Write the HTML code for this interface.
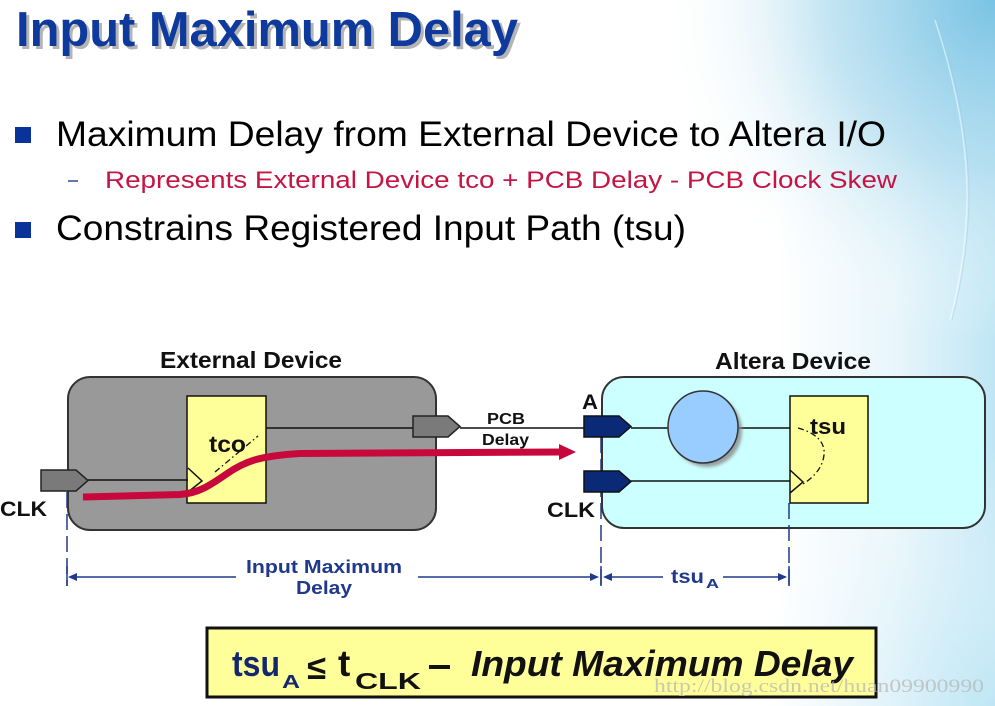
<!DOCTYPE html>
<html><head><meta charset="utf-8"><style>
html,body{margin:0;padding:0;background:#fff;}
svg{display:block;}
text{font-family:"Liberation Sans",Arial,sans-serif;}
</style></head><body>
<svg width="995" height="706" viewBox="0 0 995 706" xmlns="http://www.w3.org/2000/svg">
<defs>
<linearGradient id="bgl" x1="0" y1="0" x2="1" y2="0">
<stop offset="0" stop-color="#ffffff"/>
<stop offset="0.78" stop-color="#ffffff"/>
<stop offset="0.9" stop-color="#e8f6fb"/>
<stop offset="1" stop-color="#bfe6f5"/>
</linearGradient>
<radialGradient id="bgr" cx="995" cy="0" r="340" gradientUnits="userSpaceOnUse">
<stop offset="0" stop-color="#79c3e4" stop-opacity="1"/>
<stop offset="0.5" stop-color="#b0dcef" stop-opacity="0.7"/>
<stop offset="1" stop-color="#ffffff" stop-opacity="0"/>
</radialGradient>
<radialGradient id="bgb" cx="995" cy="706" r="260" gradientUnits="userSpaceOnUse">
<stop offset="0" stop-color="#bfe6f5" stop-opacity="0.9"/>
<stop offset="1" stop-color="#ffffff" stop-opacity="0"/>
</radialGradient>
<filter id="sh" x="-20%" y="-20%" width="150%" height="150%"><feGaussianBlur stdDeviation="1.5"/></filter>
</defs>
<rect x="0" y="0" width="995" height="706" fill="url(#bgl)"/>
<rect x="0" y="0" width="995" height="706" fill="url(#bgr)"/>
<rect x="0" y="0" width="995" height="706" fill="url(#bgb)"/>
<path d="M935 20 Q968 120 967 200 Q966 260 950 320" fill="none" stroke="#ffffff" stroke-width="1.5" opacity="0.5"/>
<path d="M937 20 Q970 120 969 200 Q968 260 952 320" fill="none" stroke="#8fcbe3" stroke-width="1" opacity="0.4"/>

<!-- Title -->
<text x="19" y="49" font-size="49" font-weight="bold" fill="#b4b4b4" textLength="502" lengthAdjust="spacingAndGlyphs">Input Maximum Delay</text>
<text x="16" y="46" font-size="49" font-weight="bold" fill="#0d3a9c" textLength="502" lengthAdjust="spacingAndGlyphs">Input Maximum Delay</text>

<!-- Bullets -->
<rect x="15" y="127" width="16" height="16" fill="#0a3399"/>
<text x="56" y="146" font-size="35" fill="#000" textLength="830" lengthAdjust="spacingAndGlyphs">Maximum Delay from External Device to Altera I/O</text>
<line x1="68" y1="181" x2="78" y2="181" stroke="#2a4a9a" stroke-width="1.5"/>
<text x="105" y="188" font-size="24" fill="#c41545" textLength="792" lengthAdjust="spacingAndGlyphs">Represents External Device tco + PCB Delay - PCB Clock Skew</text>
<rect x="15" y="222" width="16" height="16" fill="#0a3399"/>
<text x="56" y="240" font-size="35" fill="#000" textLength="630" lengthAdjust="spacingAndGlyphs">Constrains Registered Input Path (tsu)</text>

<!-- Labels -->
<text x="160" y="368" font-size="23" font-weight="bold" fill="#111" textLength="182" lengthAdjust="spacingAndGlyphs">External Device</text>
<text x="715" y="369" font-size="23" font-weight="bold" fill="#111" textLength="156" lengthAdjust="spacingAndGlyphs">Altera Device</text>

<!-- External device box -->
<rect x="68" y="377" width="368" height="153" rx="22" ry="22" fill="#999999" stroke="#333" stroke-width="2"/>
<rect x="187" y="396" width="79" height="107" fill="#ffff99" stroke="#111" stroke-width="1.5"/>
<polyline points="188,468 202,481 188,492" fill="none" stroke="#111" stroke-width="1.5"/>
<line x1="215" y1="472" x2="258" y2="436" stroke="#111" stroke-width="1.3" stroke-dasharray="6,3,1.5,3"/>
<text x="209" y="452" font-size="23" font-weight="bold" fill="#111" textLength="37" lengthAdjust="spacingAndGlyphs">tco</text>
<line x1="88" y1="480" x2="188" y2="480" stroke="#111" stroke-width="1.5"/>
<line x1="266" y1="428" x2="413" y2="428" stroke="#111" stroke-width="1.5"/>
<line x1="460" y1="428" x2="584" y2="428" stroke="#111" stroke-width="1.5"/>
<polygon points="41,470 76,470 88,480.5 76,491 41,491" fill="#7a7a7a" stroke="#222" stroke-width="1.5"/>
<polygon points="413,416 448,416 460,426.5 448,437 413,437" fill="#7a7a7a" stroke="#222" stroke-width="1.5"/>

<text x="0" y="516" font-size="21" font-weight="bold" fill="#111" textLength="47" lengthAdjust="spacingAndGlyphs">CLK</text>
<text x="487" y="424" font-size="16" font-weight="bold" fill="#111" textLength="38" lengthAdjust="spacingAndGlyphs">PCB</text>
<text x="482" y="445" font-size="16" font-weight="bold" fill="#111" textLength="47" lengthAdjust="spacingAndGlyphs">Delay</text>

<!-- Altera box -->
<rect x="602" y="377" width="383" height="151" rx="22" ry="22" fill="#ccffff" stroke="#333" stroke-width="2"/>
<line x1="631" y1="428" x2="668" y2="428" stroke="#111" stroke-width="1.5"/>
<line x1="739" y1="428" x2="790" y2="428" stroke="#111" stroke-width="1.5"/>
<line x1="631" y1="481" x2="790" y2="481" stroke="#111" stroke-width="1.5"/>
<ellipse cx="707" cy="431" rx="35" ry="36" fill="#888" filter="url(#sh)" opacity="0.8"/>
<ellipse cx="703" cy="427" rx="35" ry="36" fill="#99ccff" stroke="#333" stroke-width="1.5"/>
<rect x="790" y="396" width="78" height="107" fill="#ffff99" stroke="#111" stroke-width="1.5"/>
<polyline points="790,470 803,482 790,493" fill="none" stroke="#111" stroke-width="1.5"/>
<path d="M798 428 Q826 436 824 455 Q822 472 803 484" fill="none" stroke="#111" stroke-width="1.3" stroke-dasharray="6,3,1.5,3"/>
<text x="810" y="434" font-size="22" font-weight="bold" fill="#111" textLength="36" lengthAdjust="spacingAndGlyphs">tsu</text>

<!-- blue dashed verticals -->
<g stroke="#1f3a8c" stroke-width="1.5" fill="none">
<line x1="67" y1="492" x2="67" y2="586" stroke-dasharray="16,6"/>
<line x1="601" y1="437" x2="601" y2="586" stroke-dasharray="16,6"/>
<line x1="789" y1="503" x2="789" y2="586" stroke-dasharray="16,6"/>
<line x1="67" y1="566" x2="67" y2="586"/>
<line x1="601" y1="566" x2="601" y2="586"/>
<line x1="789" y1="566" x2="789" y2="586"/>
<line x1="70" y1="577" x2="236" y2="577"/>
<line x1="418" y1="577" x2="596" y2="577"/>
<line x1="606" y1="577" x2="663" y2="577"/>
<line x1="723" y1="577" x2="785" y2="577"/>
</g>
<g fill="#1f3a8c">
<polygon points="68,577 77,573 77,581"/>
<polygon points="599,577 590,573 590,581"/>
<polygon points="603,577 612,573 612,581"/>
<polygon points="787,577 778,573 778,581"/>
</g>
<text x="246" y="573" font-size="18" font-weight="bold" fill="#1f3a8c" textLength="156" lengthAdjust="spacingAndGlyphs">Input Maximum</text>
<text x="296" y="594" font-size="18" font-weight="bold" fill="#1f3a8c" textLength="56" lengthAdjust="spacingAndGlyphs">Delay</text>
<text x="671" y="583" font-size="19" font-weight="bold" fill="#1f3a8c" textLength="33" lengthAdjust="spacingAndGlyphs">tsu</text>
<text x="706" y="588" font-size="13" font-weight="bold" fill="#1f3a8c" textLength="13" lengthAdjust="spacingAndGlyphs">A</text>

<!-- Altera ports -->
<polygon points="584,416 619,416 631,426.5 619,437 584,437" fill="#0a2a78" stroke="#111" stroke-width="1.5"/>
<polygon points="584,471 619,471 631,481.5 619,492 584,492" fill="#0a2a78" stroke="#111" stroke-width="1.5"/>
<text x="582" y="409" font-size="21" font-weight="bold" fill="#111" textLength="16" lengthAdjust="spacingAndGlyphs">A</text>
<text x="547" y="517" font-size="21" font-weight="bold" fill="#111" textLength="48" lengthAdjust="spacingAndGlyphs">CLK</text>

<!-- red path -->
<path d="M83 497 L180 494.5 C200 493 212 484 228 473 C244 462 258 456 300 453.5 L562 452" fill="none" stroke="#c8083c" stroke-width="7"/>
<polygon points="559,444 576,452 559,460" fill="#c8083c"/>

<!-- formula box -->
<rect x="207" y="628" width="669" height="69" fill="#ffff99" stroke="#111" stroke-width="3"/>
<text x="232" y="676" font-size="36" font-weight="bold" fill="#13266e" textLength="48" lengthAdjust="spacingAndGlyphs">tsu</text>
<text x="282" y="688" font-size="18" font-weight="bold" fill="#13266e" textLength="18" lengthAdjust="spacingAndGlyphs">A</text>
<text x="307" y="679" font-size="34" font-weight="bold" fill="#111" textLength="19" lengthAdjust="spacingAndGlyphs">≤</text>
<text x="338" y="676" font-size="37" font-weight="bold" fill="#111">t</text>
<text x="355" y="689" font-size="23" font-weight="bold" fill="#111" textLength="66" lengthAdjust="spacingAndGlyphs">CLK</text>
<rect x="429" y="665" width="21" height="4" fill="#111"/>
<text x="471" y="676" font-size="36" font-weight="bold" font-style="italic" fill="#111" textLength="382" lengthAdjust="spacingAndGlyphs">Input Maximum Delay</text>

<!-- watermark -->
<text x="654" y="692" font-size="19" fill="#b8b8b8" opacity="0.75" style="font-family:'Liberation Serif',serif" textLength="330" lengthAdjust="spacingAndGlyphs">http://blog.csdn.net/huan09900990</text>
</svg>
</body></html>
